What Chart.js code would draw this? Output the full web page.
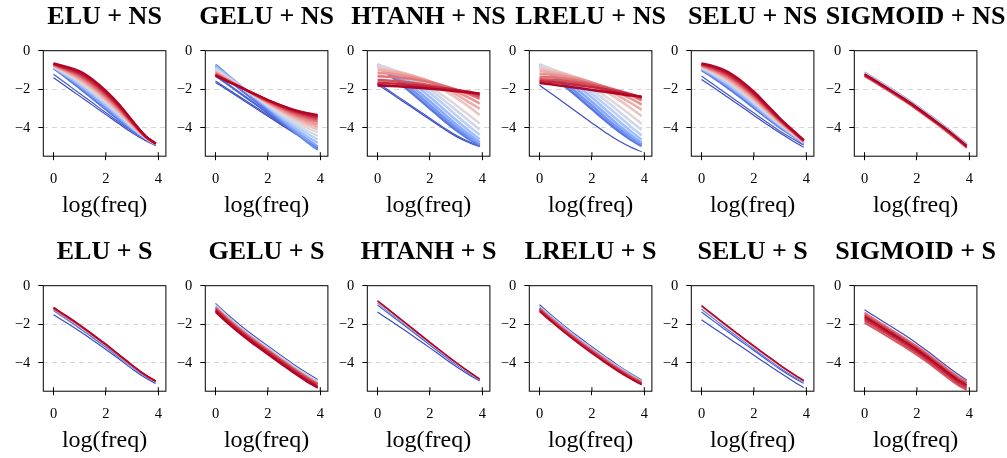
<!DOCTYPE html>
<html>
<head>
<meta charset="utf-8">
<script src="https://cdn.jsdelivr.net/npm/chart.js@4.4.1/dist/chart.umd.min.js"></script>
<style>
  html, body { margin: 0; padding: 0; background: #fff; }
  #wrap { position: relative; width: 1007px; height: 458px; overflow: hidden; }
  #wrap canvas { position: absolute; }
</style>
</head>
<body>
<div id="wrap"></div>
<script>
// panel titles, row by row
const TITLES = ['ELU + NS', 'GELU + NS', 'HTANH + NS', 'LRELU + NS', 'SELU + NS', 'SIGMOID + NS',
                'ELU + S', 'GELU + S', 'HTANH + S', 'LRELU + S', 'SELU + S', 'SIGMOID + S'];
const X_LABEL = 'log(freq)';
const X_TICKS = [0, 2, 4];
const Y_TICKS = [0, -2, -4];

// x positions shared by every curve
const XS = [0, 0.5, 1, 1.5, 2, 2.5, 3, 3.5, 3.9];

// curves, first epoch first
const ELU_NS = [
    [-1.40, -1.88, -2.36, -2.84, -3.32, -3.80, -4.26, -4.66, -4.93],
    [-1.22, -1.72, -2.22, -2.72, -3.22, -3.72, -4.19, -4.60, -4.89],
    [-0.92, -1.42, -1.95, -2.50, -3.05, -3.60, -4.12, -4.56, -4.86],
    [-0.89, -1.35, -1.84, -2.38, -2.93, -3.50, -4.06, -4.54, -4.86],
    [-0.86, -1.28, -1.74, -2.26, -2.82, -3.40, -4.00, -4.53, -4.85],
    [-0.83, -1.22, -1.64, -2.15, -2.71, -3.31, -3.95, -4.51, -4.85],
    [-0.80, -1.16, -1.55, -2.05, -2.61, -3.23, -3.90, -4.50, -4.84],
    [-0.78, -1.10, -1.47, -1.95, -2.52, -3.15, -3.85, -4.48, -4.84],
    [-0.75, -1.05, -1.39, -1.86, -2.43, -3.08, -3.80, -4.47, -4.83],
    [-0.73, -1.00, -1.32, -1.78, -2.35, -3.01, -3.76, -4.46, -4.83],
    [-0.71, -0.96, -1.25, -1.70, -2.27, -2.94, -3.72, -4.45, -4.83],
    [-0.69, -0.92, -1.18, -1.63, -2.21, -2.89, -3.69, -4.44, -4.83],
    [-0.68, -0.88, -1.12, -1.56, -2.14, -2.83, -3.65, -4.43, -4.82],
    [-0.66, -0.84, -1.07, -1.50, -2.08, -2.78, -3.62, -4.42, -4.82]
];
const GELU_NS = [
    [-1.65, -2.08, -2.52, -2.96, -3.40, -3.84, -4.28, -4.70, -5.05],
    [-1.58, -2.02, -2.46, -2.90, -3.34, -3.78, -4.22, -4.64, -5.00],
    [-1.29, -1.78, -2.27, -2.75, -3.24, -3.73, -4.21, -4.68, -5.05],
    [-1.01, -1.54, -2.07, -2.61, -3.14, -3.67, -4.21, -4.71, -5.10],
    [-0.72, -1.30, -1.88, -2.46, -3.04, -3.62, -4.20, -4.75, -5.15],
    [-0.78, -1.33, -1.89, -2.44, -2.99, -3.54, -4.09, -4.60, -4.97],
    [-0.84, -1.36, -1.89, -2.42, -2.94, -3.46, -3.97, -4.45, -4.79],
    [-0.89, -1.40, -1.90, -2.40, -2.90, -3.38, -3.86, -4.30, -4.61],
    [-0.95, -1.43, -1.90, -2.38, -2.85, -3.30, -3.75, -4.15, -4.43],
    [-1.01, -1.46, -1.91, -2.36, -2.80, -3.23, -3.64, -4.00, -4.25],
    [-1.06, -1.49, -1.91, -2.34, -2.76, -3.16, -3.54, -3.87, -4.10],
    [-1.10, -1.51, -1.91, -2.32, -2.72, -3.10, -3.45, -3.75, -3.96],
    [-1.14, -1.53, -1.92, -2.31, -2.69, -3.04, -3.37, -3.65, -3.83],
    [-1.18, -1.56, -1.92, -2.29, -2.66, -2.99, -3.30, -3.54, -3.70],
    [-1.22, -1.58, -1.92, -2.28, -2.63, -2.94, -3.23, -3.45, -3.59],
    [-1.25, -1.59, -1.93, -2.27, -2.60, -2.90, -3.17, -3.38, -3.50],
    [-1.27, -1.60, -1.93, -2.26, -2.58, -2.87, -3.13, -3.32, -3.43],
    [-1.29, -1.61, -1.93, -2.25, -2.57, -2.85, -3.09, -3.27, -3.38],
    [-1.30, -1.62, -1.93, -2.25, -2.56, -2.83, -3.07, -3.24, -3.34]
];
const HTANH_NS = [
    [-1.75, -2.20, -2.66, -3.12, -3.58, -4.03, -4.45, -4.78, -4.98],
    [-1.68, -2.13, -2.59, -3.05, -3.51, -3.97, -4.39, -4.73, -4.94],
    [-0.75, -1.30, -1.85, -2.42, -3.00, -3.58, -4.12, -4.60, -4.92],
    [-0.73, -1.18, -1.68, -2.24, -2.82, -3.42, -3.99, -4.50, -4.86],
    [-0.72, -1.08, -1.52, -2.05, -2.62, -3.22, -3.82, -4.36, -4.76],
    [-0.72, -1.00, -1.38, -1.86, -2.40, -3.00, -3.60, -4.17, -4.60],
    [-0.73, -0.96, -1.28, -1.70, -2.20, -2.76, -3.35, -3.93, -4.38],
    [-0.76, -0.95, -1.22, -1.58, -2.02, -2.53, -3.09, -3.65, -4.10],
    [-0.82, -0.98, -1.21, -1.51, -1.88, -2.33, -2.83, -3.35, -3.78],
    [-0.88, -1.00, -1.16, -1.38, -1.66, -2.02, -2.45, -2.92, -3.34],
    [-1.00, -1.08, -1.20, -1.37, -1.60, -1.90, -2.27, -2.68, -3.02],
    [-1.15, -1.20, -1.29, -1.42, -1.60, -1.83, -2.12, -2.45, -2.75],
    [-1.33, -1.36, -1.42, -1.51, -1.64, -1.81, -2.02, -2.27, -2.50],
    [-1.52, -1.56, -1.61, -1.69, -1.79, -1.91, -2.04, -2.20, -2.38],
    [-1.67, -1.70, -1.74, -1.80, -1.87, -1.95, -2.04, -2.14, -2.27],
    [-1.80, -1.83, -1.87, -1.92, -1.97, -2.03, -2.10, -2.17, -2.22]
];
const LRELU_NS = [
    [-1.80, -2.28, -2.77, -3.26, -3.75, -4.23, -4.67, -5.02, -5.25],
    [-0.78, -1.32, -1.88, -2.45, -3.03, -3.61, -4.16, -4.63, -4.95],
    [-0.74, -1.20, -1.71, -2.27, -2.85, -3.45, -4.02, -4.53, -4.88],
    [-0.72, -1.10, -1.55, -2.08, -2.65, -3.25, -3.85, -4.39, -4.78],
    [-0.72, -1.02, -1.41, -1.89, -2.43, -3.03, -3.63, -4.20, -4.62],
    [-0.73, -0.98, -1.31, -1.73, -2.23, -2.79, -3.38, -3.96, -4.40],
    [-0.77, -0.97, -1.25, -1.61, -2.05, -2.56, -3.12, -3.68, -4.12],
    [-0.83, -0.99, -1.22, -1.52, -1.89, -2.35, -2.85, -3.37, -3.80],
    [-0.92, -1.04, -1.21, -1.44, -1.73, -2.10, -2.53, -3.00, -3.40],
    [-1.05, -1.13, -1.26, -1.43, -1.66, -1.96, -2.33, -2.73, -3.07],
    [-1.20, -1.25, -1.34, -1.47, -1.65, -1.88, -2.17, -2.50, -2.80],
    [-1.35, -1.39, -1.46, -1.56, -1.70, -1.87, -2.08, -2.33, -2.58],
    [-1.48, -1.52, -1.58, -1.67, -1.78, -1.92, -2.08, -2.27, -2.47],
    [-1.58, -1.63, -1.70, -1.79, -1.89, -2.01, -2.14, -2.28, -2.42],
    [-1.67, -1.76, -1.85, -1.94, -2.04, -2.13, -2.23, -2.33, -2.39]
];
const SELU_NS = [
    [-1.49, -1.95, -2.42, -2.89, -3.36, -3.83, -4.28, -4.70, -5.02],
    [-1.32, -1.80, -2.28, -2.76, -3.24, -3.72, -4.18, -4.59, -4.90],
    [-1.00, -1.45, -1.93, -2.44, -2.97, -3.50, -4.00, -4.45, -4.82],
    [-0.96, -1.37, -1.83, -2.33, -2.87, -3.42, -3.94, -4.41, -4.80],
    [-0.92, -1.30, -1.73, -2.23, -2.77, -3.34, -3.88, -4.38, -4.78],
    [-0.88, -1.23, -1.64, -2.13, -2.68, -3.26, -3.83, -4.35, -4.76],
    [-0.85, -1.17, -1.55, -2.04, -2.59, -3.19, -3.78, -4.32, -4.74],
    [-0.81, -1.10, -1.47, -1.95, -2.51, -3.13, -3.74, -4.29, -4.72],
    [-0.78, -1.05, -1.39, -1.87, -2.43, -3.06, -3.69, -4.26, -4.70],
    [-0.76, -1.00, -1.33, -1.80, -2.37, -3.01, -3.65, -4.23, -4.69],
    [-0.73, -0.95, -1.26, -1.73, -2.30, -2.96, -3.62, -4.21, -4.68],
    [-0.70, -0.90, -1.20, -1.67, -2.24, -2.91, -3.58, -4.19, -4.66],
    [-0.68, -0.86, -1.14, -1.60, -2.18, -2.86, -3.55, -4.17, -4.65],
    [-0.66, -0.82, -1.09, -1.55, -2.13, -2.82, -3.52, -4.15, -4.64]
];
const SIGMOID_NS = [
    [-1.13, -1.54, -1.96, -2.40, -2.86, -3.36, -3.86, -4.40, -4.85],
    [-1.17, -1.58, -2.00, -2.44, -2.90, -3.40, -3.90, -4.44, -4.89],
    [-1.33, -1.74, -2.16, -2.60, -3.06, -3.56, -4.06, -4.60, -5.05],
    [-1.29, -1.70, -2.12, -2.56, -3.02, -3.52, -4.02, -4.56, -5.01],
    [-1.21, -1.62, -2.04, -2.48, -2.94, -3.44, -3.94, -4.48, -4.93],
    [-1.25, -1.66, -2.08, -2.52, -2.98, -3.48, -3.98, -4.52, -4.97]
];
const ELU_S = [
    [-1.51, -1.93, -2.37, -2.83, -3.31, -3.81, -4.32, -4.78, -5.08],
    [-1.28, -1.74, -2.21, -2.69, -3.19, -3.71, -4.22, -4.70, -5.00],
    [-1.22, -1.66, -2.12, -2.61, -3.11, -3.64, -4.17, -4.66, -4.98],
    [-1.19, -1.63, -2.09, -2.58, -3.09, -3.62, -4.15, -4.65, -4.97],
    [-1.16, -1.60, -2.06, -2.56, -3.07, -3.60, -4.14, -4.64, -4.96],
    [-1.13, -1.57, -2.03, -2.53, -3.04, -3.58, -4.12, -4.62, -4.95]
];
const GELU_S = [
    [-0.92, -1.55, -2.12, -2.64, -3.13, -3.62, -4.10, -4.55, -4.87],
    [-1.00, -1.63, -2.20, -2.72, -3.21, -3.70, -4.18, -4.63, -4.95],
    [-1.10, -1.73, -2.30, -2.82, -3.31, -3.80, -4.28, -4.73, -5.05],
    [-1.17, -1.80, -2.37, -2.89, -3.38, -3.87, -4.35, -4.80, -5.12],
    [-1.24, -1.87, -2.44, -2.96, -3.45, -3.94, -4.42, -4.87, -5.19],
    [-1.31, -1.94, -2.51, -3.03, -3.52, -4.01, -4.49, -4.94, -5.26],
    [-1.37, -2.00, -2.57, -3.09, -3.58, -4.07, -4.55, -5.00, -5.32]
];
const HTANH_S = [
    [-1.37, -1.82, -2.28, -2.75, -3.23, -3.72, -4.20, -4.64, -4.95],
    [-1.00, -1.52, -2.04, -2.56, -3.08, -3.60, -4.10, -4.56, -4.90],
    [-0.90, -1.43, -1.96, -2.49, -3.02, -3.54, -4.05, -4.52, -4.88],
    [-0.84, -1.37, -1.91, -2.44, -2.98, -3.50, -4.02, -4.50, -4.87],
    [-0.80, -1.34, -1.88, -2.42, -2.96, -3.49, -4.00, -4.49, -4.86],
    [-0.78, -1.32, -1.86, -2.40, -2.94, -3.47, -3.99, -4.48, -4.85]
];
const LRELU_S = [
    [-0.99, -1.58, -2.14, -2.67, -3.17, -3.66, -4.14, -4.58, -4.90],
    [-1.07, -1.66, -2.22, -2.75, -3.25, -3.73, -4.20, -4.63, -4.95],
    [-1.15, -1.74, -2.30, -2.83, -3.33, -3.81, -4.27, -4.69, -5.00],
    [-1.21, -1.80, -2.36, -2.89, -3.39, -3.87, -4.33, -4.75, -5.05],
    [-1.27, -1.86, -2.42, -2.95, -3.45, -3.93, -4.38, -4.79, -5.09],
    [-1.33, -1.92, -2.48, -3.01, -3.51, -3.99, -4.44, -4.85, -5.14]
];
const SELU_S = [
    [-1.77, -2.23, -2.69, -3.15, -3.61, -4.07, -4.52, -4.96, -5.30],
    [-1.37, -1.88, -2.38, -2.88, -3.37, -3.86, -4.34, -4.77, -5.07],
    [-1.22, -1.75, -2.27, -2.78, -3.29, -3.79, -4.27, -4.71, -5.00],
    [-1.10, -1.63, -2.16, -2.68, -3.19, -3.69, -4.18, -4.63, -4.95],
    [-1.06, -1.60, -2.13, -2.65, -3.16, -3.66, -4.15, -4.60, -4.94],
    [-1.03, -1.57, -2.10, -2.62, -3.13, -3.63, -4.12, -4.58, -4.93]
];
const SIGMOID_S = [
    [-1.25, -1.68, -2.11, -2.54, -3.00, -3.50, -4.03, -4.54, -4.90],
    [-1.40, -1.83, -2.26, -2.69, -3.14, -3.63, -4.15, -4.65, -4.98],
    [-1.92, -2.33, -2.74, -3.15, -3.60, -4.08, -4.60, -5.10, -5.42],
    [-1.80, -2.22, -2.63, -3.05, -3.50, -3.99, -4.51, -5.01, -5.34],
    [-1.50, -1.93, -2.35, -2.78, -3.23, -3.72, -4.24, -4.74, -5.07],
    [-1.70, -2.12, -2.54, -2.96, -3.41, -3.90, -4.42, -4.92, -5.25],
    [-1.60, -2.03, -2.45, -2.87, -3.32, -3.81, -4.33, -4.83, -5.16]
];

// colour position of each curve on the coolwarm map (style only)
const SHADE_ELU = [0, 0.03, 0.1, 0.22, 0.34, 0.46, 0.58, 0.68, 0.76, 0.83, 0.89, 0.94, 0.97, 1];
const SHADE_GELU = [0, 0.02, 0.06, 0.1, 0.15, 0.22, 0.3, 0.37, 0.45, 0.52, 0.6, 0.67, 0.74, 0.8, 0.86, 0.91, 0.95, 0.98, 1];
const SHADE_HTANH = [0, 0.03, 0.1, 0.17, 0.24, 0.31, 0.38, 0.45, 0.52, 0.59, 0.66, 0.73, 0.8, 0.87, 0.94, 1];
const SHADE_LRELU = [0, 0.1, 0.17, 0.24, 0.31, 0.38, 0.45, 0.52, 0.59, 0.66, 0.73, 0.8, 0.87, 0.94, 1];
const SHADE_SIG_NS = [0.2, 0.5, 0.8, 0.9, 1, 1];
const SHADE_ELU_S = [0, 0.1, 0.6, 0.85, 0.95, 1];
const SHADE_GELU_S = [0, 0.4, 0.8, 0.9, 0.95, 1, 1];
const SHADE_HT_S = [0, 0.05, 0.12, 0.5, 0.85, 1];
const SHADE_LR_S = [0, 0.35, 0.8, 0.9, 0.95, 1];
const SHADE_SE_S = [0, 0.03, 0.1, 0.5, 0.85, 1];
const SHADE_SIG_S = [0, 0.8, 0.85, 0.9, 0.9, 0.95, 1];

// lw: width of the band curves, thin: how many leading curves stay thin
const PANELS = [
    { lines: ELU_NS, shade: SHADE_ELU, lw: 2.3, thin: 2 },
    { lines: GELU_NS, shade: SHADE_GELU, lw: 2.2, thin: 2 },
    { lines: HTANH_NS, shade: SHADE_HTANH, lw: 2.6, thin: 2 },
    { lines: LRELU_NS, shade: SHADE_LRELU, lw: 2.6, thin: 1 },
    { lines: SELU_NS, shade: SHADE_ELU, lw: 2.3, thin: 2 },
    { lines: SIGMOID_NS, shade: SHADE_SIG_NS, lw: 2, thin: 0 },
    { lines: ELU_S, shade: SHADE_ELU_S, lw: 1.6, thin: 1 },
    { lines: GELU_S, shade: SHADE_GELU_S, lw: 1.7, thin: 1 },
    { lines: HTANH_S, shade: SHADE_HT_S, lw: 1.5, thin: 3 },
    { lines: LRELU_S, shade: SHADE_LR_S, lw: 1.7, thin: 1 },
    { lines: SELU_S, shade: SHADE_SE_S, lw: 1.5, thin: 3 },
    { lines: SIGMOID_S, shade: SHADE_SIG_S, lw: 1.9, thin: 1 }
];

const SERIF = "'Liberation Serif', 'Times New Roman', serif";
const PANEL_LEFT = [0, 162, 324, 486, 648, 811];
const ROW_TOP = [0, 235];
const CW = 200, CH = 222;

const STOPS = [
    [0, 59, 76, 192], [0.125, 98, 130, 234], [0.25, 141, 176, 254], [0.375, 184, 208, 249],
    [0.5, 222, 220, 222], [0.625, 240, 186, 182], [0.75, 233, 140, 140], [0.875, 212, 78, 88],
    [1, 180, 4, 38]
];
function coolwarm(t) {
    for (let k = 1; k < STOPS.length; k++) {
        if (t <= STOPS[k][0]) {
            const a = STOPS[k - 1], b = STOPS[k];
            const f = (t - a[0]) / (b[0] - a[0]);
            const c = [1, 2, 3].map(j => Math.round(a[j] + f * (b[j] - a[j])));
            return `rgb(${c[0]}, ${c[1]}, ${c[2]})`;
        }
    }
    return 'rgb(180, 4, 38)';
}

function fmt(v) {
    return v < 0 ? '\u2212' + Math.abs(v) : String(v);
}

// box round the plot area, inner half of the x ticks, and the panel title
const framePlugin = {
    id: 'frame',
    afterDatasetsDraw(chart) {
        const { ctx, chartArea: a, scales } = chart;
        ctx.save();
        ctx.strokeStyle = '#000';
        ctx.lineWidth = 1;
        ctx.strokeRect(a.left, a.top, a.right - a.left, a.bottom - a.top);
        ctx.beginPath();
        X_TICKS.forEach(v => {
            const px = scales.x.getPixelForValue(v);
            ctx.moveTo(px, a.bottom);
            ctx.lineTo(px, a.bottom - 4);
        });
        ctx.stroke();
        ctx.restore();
    },
    afterDraw(chart) {
        const { ctx, chartArea: a } = chart;
        ctx.save();
        ctx.fillStyle = '#000';
        ctx.font = `bold 26px ${SERIF}`;
        ctx.textAlign = 'center';
        ctx.textBaseline = 'middle';
        ctx.fillText(chart.options.plugins.frame.title, (a.left + a.right) / 2, 17);
        ctx.restore();
    }
};

const wrap = document.getElementById('wrap');

PANELS.forEach((panel, idx) => {
    const canvas = document.createElement('canvas');
    canvas.width = CW;
    canvas.height = CH;
    canvas.style.left = PANEL_LEFT[idx % 6] + 'px';
    canvas.style.top = ROW_TOP[Math.floor(idx / 6)] + 'px';
    wrap.appendChild(canvas);

    const n = panel.lines.length;
    new Chart(canvas, {
        type: 'line',
        data: {
            datasets: panel.lines.map((ys, i) => ({
                data: ys.map((y, j) => ({ x: XS[j], y: y })),
                borderColor: coolwarm(panel.shade[i]),
                borderWidth: i < panel.thin ? 1.2 : panel.lw,
                pointRadius: 0,
                fill: false,
                tension: 0.4,
                order: n - i
            }))
        },
        options: {
            responsive: false,
            animation: false,
            events: [],
            layout: { padding: { left: 0, right: CW - 165.9, top: 50.7, bottom: 0 } },
            plugins: {
                legend: { display: false },
                tooltip: { enabled: false },
                title: { display: false },
                frame: { title: TITLES[idx] }
            },
            scales: {
                x: {
                    type: 'linear',
                    min: -0.39,
                    max: 4.29,
                    afterBuildTicks: s => { s.ticks = X_TICKS.map(v => ({ value: v })); },
                    afterFit: s => { s.height = CH - 156.2; },
                    grid: { drawOnChartArea: false, tickLength: 4, tickColor: '#000', tickWidth: 1 },
                    border: { display: false },
                    ticks: {
                        color: '#000',
                        font: { family: SERIF, size: 14.5 },
                        padding: 10.2,
                        maxRotation: 0,
                        autoSkip: false,
                        callback: fmt
                    },
                    title: {
                        display: true,
                        text: X_LABEL,
                        color: '#000',
                        font: { family: SERIF, size: 24 },
                        padding: { top: 0, bottom: 2.2 }
                    }
                },
                y: {
                    type: 'linear',
                    min: -5.48,
                    max: 0,
                    afterBuildTicks: s => { s.ticks = Y_TICKS.map(v => ({ value: v })); },
                    afterFit: s => { s.width = 43.3; },
                    grid: {
                        color: c => (c.tick && c.tick.value === 0) ? 'rgba(0,0,0,0)' : '#d6d6d6',
                        lineWidth: 1,
                        tickLength: 5,
                        tickColor: '#000',
                        tickWidth: 1
                    },
                    border: { display: false, dash: [5, 4] },
                    ticks: {
                        color: '#000',
                        font: { family: SERIF, size: 14.5 },
                        padding: 8,
                        autoSkip: false,
                        callback: fmt
                    }
                }
            }
        },
        plugins: [framePlugin]
    });
});
</script>
</body>
</html>
